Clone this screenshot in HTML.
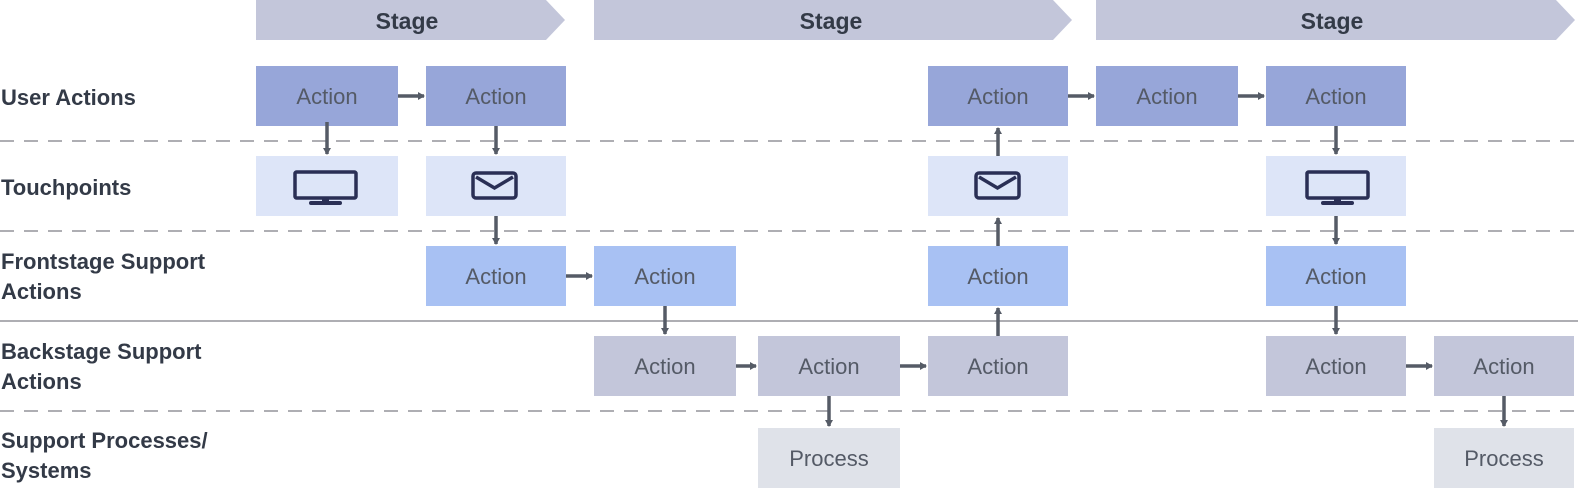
<!DOCTYPE html>
<html><head><meta charset="utf-8"><style>
html,body{margin:0;padding:0;background:#fff;}
svg{display:block;}
.lbl{font-family:"Liberation Sans",sans-serif;font-size:22px;font-weight:bold;fill:#333a47;}
.st{font-family:"Liberation Sans",sans-serif;font-size:23px;font-weight:bold;fill:#333a47;}
.bx{font-family:"Liberation Sans",sans-serif;font-size:22px;fill:#545a66;}
</style></head><body>
<svg width="1578" height="488" viewBox="0 0 1578 488" xmlns="http://www.w3.org/2000/svg">
<defs>
<marker id="ah" markerWidth="8" markerHeight="8" refX="6" refY="4" orient="auto" markerUnits="userSpaceOnUse">
<path d="M0,0 L7,4 L0,8 Z" fill="#555b66"/>
</marker>
</defs>
<polygon points="256,0 546,0 565,20 546,40 256,40" fill="#c3c6da"/>
<polygon points="594,0 1053,0 1072,20 1053,40 594,40" fill="#c3c6da"/>
<polygon points="1096,0 1556,0 1575,20 1556,40 1096,40" fill="#c3c6da"/>
<text class="st" x="407" y="29" text-anchor="middle">Stage</text>
<text class="st" x="831" y="29" text-anchor="middle">Stage</text>
<text class="st" x="1332" y="29" text-anchor="middle">Stage</text>
<g stroke="#aeaeb3" stroke-width="2" fill="none">
<line x1="0" y1="141" x2="1578" y2="141" stroke-dasharray="14,10"/>
<line x1="0" y1="231" x2="1578" y2="231" stroke-dasharray="14,10"/>
<line x1="0" y1="321" x2="1578" y2="321"/>
<line x1="0" y1="411" x2="1578" y2="411" stroke-dasharray="14,10"/>
</g>
<text class="lbl" x="1" y="105">User Actions</text>
<text class="lbl" x="1" y="195">Touchpoints</text>
<text class="lbl" x="1" y="269">Frontstage Support</text>
<text class="lbl" x="1" y="299">Actions</text>
<text class="lbl" x="1" y="359">Backstage Support</text>
<text class="lbl" x="1" y="389">Actions</text>
<text class="lbl" x="1" y="448">Support Processes/</text>
<text class="lbl" x="1" y="478">Systems</text>
<g fill="#97a6d9">
<rect x="256" y="66" width="142" height="60"/><rect x="426" y="66" width="140" height="60"/>
<rect x="928" y="66" width="140" height="60"/><rect x="1096" y="66" width="142" height="60"/>
<rect x="1266" y="66" width="140" height="60"/>
</g>
<g fill="#dde5f8">
<rect x="256" y="156" width="142" height="60"/><rect x="426" y="156" width="140" height="60"/>
<rect x="928" y="156" width="140" height="60"/><rect x="1266" y="156" width="140" height="60"/>
</g>
<g fill="#a8c1f3">
<rect x="426" y="246" width="140" height="60"/><rect x="594" y="246" width="142" height="60"/>
<rect x="928" y="246" width="140" height="60"/><rect x="1266" y="246" width="140" height="60"/>
</g>
<g fill="#c3c6da">
<rect x="594" y="336" width="142" height="60"/><rect x="758" y="336" width="142" height="60"/>
<rect x="928" y="336" width="140" height="60"/><rect x="1266" y="336" width="140" height="60"/>
<rect x="1434" y="336" width="140" height="60"/>
</g>
<g fill="#dfe2e9">
<rect x="758" y="428" width="142" height="60"/><rect x="1434" y="428" width="140" height="60"/>
</g>
<g class="bx" text-anchor="middle">
<text x="327" y="104">Action</text><text x="496" y="104">Action</text>
<text x="998" y="104">Action</text><text x="1167" y="104">Action</text><text x="1336" y="104">Action</text>
<text x="496" y="284">Action</text><text x="665" y="284">Action</text>
<text x="998" y="284">Action</text><text x="1336" y="284">Action</text>
<text x="665" y="374">Action</text><text x="829" y="374">Action</text>
<text x="998" y="374">Action</text><text x="1336" y="374">Action</text><text x="1504" y="374">Action</text>
<text x="829" y="466">Process</text><text x="1504" y="466">Process</text>
</g>
<g fill="none" stroke="#2a2f55" stroke-width="3.5">
<rect x="295" y="172" width="61" height="26" rx="1.5"/>
<rect x="1307" y="172" width="61" height="26" rx="1.5"/>
<rect x="473" y="173" width="43" height="25" rx="3"/>
<polyline points="476,177 494.5,188 513,177"/>
<rect x="976" y="173" width="43" height="25" rx="3"/>
<polyline points="979,177 997.5,188 1016,177"/>
</g>
<g fill="#2a2f55">
<rect x="322" y="198" width="7" height="5"/><rect x="309" y="201" width="33" height="4" rx="2"/>
<rect x="1334" y="198" width="7" height="5"/><rect x="1321" y="201" width="33" height="4" rx="2"/>
</g>
<g stroke="#555b66" stroke-width="3.5" marker-end="url(#ah)">
<line x1="398" y1="96" x2="424" y2="96"/>
<line x1="1068" y1="96" x2="1094" y2="96"/>
<line x1="1238" y1="96" x2="1264" y2="96"/>
<line x1="566" y1="276" x2="592" y2="276"/>
<line x1="736" y1="366" x2="756" y2="366"/>
<line x1="900" y1="366" x2="926" y2="366"/>
<line x1="1406" y1="366" x2="1432" y2="366"/>
<line x1="327" y1="122" x2="327" y2="154"/>
<line x1="496" y1="126" x2="496" y2="154"/>
<line x1="496" y1="216" x2="496" y2="244"/>
<line x1="665" y1="306" x2="665" y2="334"/>
<line x1="829" y1="396" x2="829" y2="426"/>
<line x1="998" y1="336" x2="998" y2="308"/>
<line x1="998" y1="246" x2="998" y2="218"/>
<line x1="998" y1="156" x2="998" y2="128"/>
<line x1="1336" y1="126" x2="1336" y2="154"/>
<line x1="1336" y1="216" x2="1336" y2="244"/>
<line x1="1336" y1="306" x2="1336" y2="334"/>
<line x1="1504" y1="396" x2="1504" y2="426"/>
</g>
</svg>
</body></html>
